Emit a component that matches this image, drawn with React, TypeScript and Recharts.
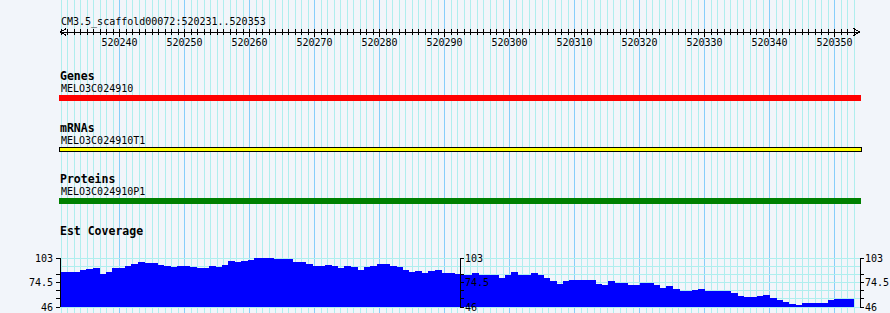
import { type FC } from "react"
import {
  Bar,
  BarChart,
  CartesianGrid,
  LineChart,
  ReferenceArea,
  ReferenceDot,
  ReferenceLine,
  XAxis,
  YAxis,
} from "recharts"

// view window
const refName = "CM3.5_scaffold00072"
const viewStart = 520231
const viewEnd = 520353

const rulerLabels = [
  520240, 520250, 520260, 520270, 520280, 520290, 520300, 520310, 520320,
  520330, 520340, 520350,
]

// one feature per track, all spanning the view
const tracks = [
  { label: "Genes", name: "MELO3C024910", start: 520231, end: 520353 },
  { label: "mRNAs", name: "MELO3C024910T1", start: 520231, end: 520353 },
  { label: "Proteins", name: "MELO3C024910P1", start: 520231, end: 520353 },
]

// est coverage, two wiggle segments
const coverageLeft = [
  86, 86, 86, 88.4, 89.7, 90.9, 83.9, 86.2, 90.9, 90.9, 93, 95.6, 97.9, 96.6,
  96.6, 94.2, 92.7, 91.9, 93.1, 93.1, 91.9, 90.7, 90.7, 92.9, 91.9, 94.4, 98.8,
  97.9, 99.2, 100.2, 103, 102.2, 102.2, 101, 101, 101, 97.7, 97.7, 96, 93.1,
  93.1, 94.2, 93.1, 90.9, 92.9, 91.9, 88.2, 91.9, 92.9, 95.4, 95.4, 93.1, 92,
  88.2, 86.3, 87.2, 85.3, 87.2, 88.2, 85.1, 85.1, 84.2,
]
const coverageRight = [
  82.6, 82.6, 85, 82.2, 82.2, 82.2, 79.5, 82.4, 85.9, 82.6, 82.6, 84.7, 83.2,
  79.2, 76, 72, 75.4, 76.6, 76.6, 76.6, 76.6, 72, 71, 75.4, 73.3, 73.3, 71, 71,
  73.1, 73.1, 71, 67.5, 69.8, 66, 64, 64, 65.2, 66.2, 63.6, 63.6, 63.6, 63.6,
  61.3, 58, 57, 57, 58.2, 59.5, 55.4, 54, 51.1, 48.8, 47.7, 50.2, 50.2, 50.2,
  50.2, 53.5, 54.6, 54.6, 54.6,
]
const coverageMin = 46
const coverageMax = 103
const coverageTicks = [46, 55.5, 65, 74.5, 84, 103]
const coverageGrid = [46, 55.5, 65, 74.5, 84, 93.5, 103]
const coverageLabels = [46, 74.5, 103]

// layout
const W = 890
const H = 313
const panelLeft = 60
const panelWidth = 800
const pxPerBase = 6.5
const domainLo = viewStart - 1 / pxPerBase
const domainHi = domainLo + panelWidth / pxPerBase

const bases: number[] = []
for (let p = viewStart; p <= viewEnd + 1; p++) bases.push(p)
const gridData = bases.map((pos) => ({ pos }))

const trackRows = [
  { labelY: 80, nameY: 92, barTop: 95, barBottom: 101, fill: "#ff0000", stroke: "none" },
  { labelY: 132, nameY: 144, barTop: 147.5, barBottom: 151.5, fill: "#ffff00", stroke: "#000000" },
  { labelY: 183, nameY: 195, barTop: 198, barBottom: 204, fill: "#008000", stroke: "none" },
]

const font = '"DejaVu Sans Mono", monospace'
const minorGrid = "#afeeee"
const majorGrid = "#87cefa"
const panelMargin = { top: 0, right: W - panelLeft - panelWidth, bottom: 0, left: panelLeft }

const layer = (top: number, left = 0) => ({
  position: "absolute" as const,
  top,
  left,
})

const RulerTick = ({ x, y, payload }: any) => {
  const major = rulerLabels.includes(payload.value)
  return (
    <g>
      <line x1={x} x2={x} y1={y - 3} y2={y + (major ? 5 : 3)} stroke="#000" />
      {major && (
        <text x={x} y={y + 14} textAnchor="middle" fontSize={10} fill="#000">
          {payload.value}
        </text>
      )}
    </g>
  )
}

const Arrow = ({ cx, cy, dir }: any) => (
  <path
    d={`M${cx + dir * 6.5},${cy - 3.5}L${cx},${cy}L${cx + dir * 6.5},${cy + 3.5}`}
    stroke="#000"
    fill="none"
  />
)

const tickFmt = (v: number) => (coverageLabels.includes(v) ? String(v) : "")
const axisTick = { fontSize: 10, fill: "#000" }

const App: FC = () => {
  const left = coverageLeft.map((v, i) => ({ pos: viewStart + i, v }))
  const right = coverageRight.map((v, i) => ({
    pos: viewStart + coverageLeft.length + i,
    v,
  }))

  return (
    <div
      style={{
        position: "absolute",
        left: 0,
        top: 0,
        width: W,
        height: H,
        background: "#f2f5fa",
        overflow: "hidden",
        fontFamily: font,
        shapeRendering: "crispEdges",
      }}
    >
      {/* base grid */}
      <div style={layer(0)}>
        <LineChart width={W} height={H} data={gridData} margin={panelMargin}>
          <XAxis dataKey="pos" type="number" domain={[domainLo, domainHi]} allowDataOverflow hide />
          <YAxis type="number" domain={[0, H]} reversed allowDataOverflow hide />
          {bases.map((p) => (
            <ReferenceLine
              key={p}
              x={p}
              stroke={p % 10 === 0 ? majorGrid : minorGrid}
              strokeWidth={1}
            />
          ))}
        </LineChart>
      </div>

      {/* feature glyphs */}
      <div style={layer(0)}>
        <LineChart width={W} height={H} data={gridData} margin={panelMargin}>
          <XAxis dataKey="pos" type="number" domain={[domainLo, domainHi]} allowDataOverflow hide />
          <YAxis type="number" domain={[0, H]} reversed allowDataOverflow hide />
          {tracks.map((t, i) => (
            <ReferenceArea
              key={t.name}
              x1={t.start - 0.3}
              x2={t.end + 1.1}
              y1={trackRows[i].barTop}
              y2={trackRows[i].barBottom}
              fill={trackRows[i].fill}
              fillOpacity={1}
              stroke={trackRows[i].stroke}
              strokeOpacity={1}
              ifOverflow="visible"
            />
          ))}
        </LineChart>
      </div>

      {/* ruler */}
      <div style={layer(0)}>
        <LineChart width={W} height={50} data={gridData} margin={panelMargin}>
          <XAxis
            dataKey="pos"
            type="number"
            domain={[domainLo, domainHi]}
            allowDataOverflow
            ticks={bases.slice(0, -1)}
            interval={0}
            height={18}
            tickSize={0}
            tickMargin={0}
            tickLine={false}
            axisLine={{ stroke: "#000" }}
            tick={<RulerTick />}
          />
          <YAxis type="number" domain={[0, 1]} allowDataOverflow hide />
          <ReferenceDot x={domainLo} y={0} r={4} ifOverflow="visible" shape={(p: any) => <Arrow {...p} dir={1} />} />
          <ReferenceDot x={domainHi} y={0} r={4} ifOverflow="visible" shape={(p: any) => <Arrow {...p} dir={-1} />} />
        </LineChart>
      </div>

      {/* est coverage, left segment */}
      <div style={layer(250)}>
        <BarChart
          width={461}
          height={63}
          data={left}
          barCategoryGap={0}
          margin={{ top: 8, right: 0, bottom: 6, left: 0 }}
        >
          <CartesianGrid vertical={false} horizontalValues={coverageGrid} stroke={minorGrid} />
          <XAxis dataKey="pos" hide padding={{ left: 1, right: 0 }} />
          <YAxis
            width={60}
            domain={[coverageMin, coverageMax]}
            ticks={coverageTicks}
            interval={0}
            allowDataOverflow
            tickFormatter={tickFmt}
            tickSize={4}
            tickMargin={3}
            axisLine={{ stroke: "#000" }}
            tickLine={{ stroke: "#000" }}
            tick={axisTick}
          />
          <Bar dataKey="v" fill="#0000ff" stroke="#0000ff" strokeWidth={1} isAnimationActive={false} />
        </BarChart>
      </div>

      {/* est coverage, right segment */}
      <div style={layer(250, 460)}>
        <BarChart
          width={430}
          height={63}
          data={right}
          barCategoryGap={0}
          margin={{ top: 8, right: 0, bottom: 6, left: 0 }}
        >
          <CartesianGrid
            vertical={false}
            horizontalValues={coverageGrid}
            stroke={minorGrid}
            yAxisId="mid"
          />
          <XAxis dataKey="pos" hide padding={{ left: 0, right: 6 }} />
          <YAxis
            yAxisId="mid"
            orientation="left"
            mirror
            domain={[coverageMin, coverageMax]}
            ticks={coverageTicks}
            interval={0}
            allowDataOverflow
            tickFormatter={tickFmt}
            tickSize={4}
            tickMargin={1}
            axisLine={{ stroke: "#000" }}
            tickLine={{ stroke: "#000" }}
            tick={axisTick}
          />
          <YAxis
            yAxisId="right"
            orientation="right"
            width={30}
            domain={[coverageMin, coverageMax]}
            ticks={coverageTicks}
            interval={0}
            allowDataOverflow
            tickFormatter={tickFmt}
            tickSize={4}
            tickMargin={1}
            axisLine={{ stroke: "#000" }}
            tickLine={{ stroke: "#000" }}
            tick={axisTick}
          />
          <Bar yAxisId="mid" dataKey="v" fill="#0000ff" stroke="#0000ff" strokeWidth={1} isAnimationActive={false} />
        </BarChart>
      </div>

      {/* track labels */}
      <svg width={W} height={H} style={{ ...layer(0), pointerEvents: "none" }}>
        <text x={61} y={25} fontSize={10} fill="#000">
          {`${refName}:${viewStart}..${viewEnd}`}
        </text>
        {tracks.map((t, i) => (
          <g key={t.label}>
            <text x={60} y={trackRows[i].labelY} fontSize={11.5} fontWeight="bold" fill="#000">
              {t.label}
            </text>
            <text x={61} y={trackRows[i].nameY} fontSize={10} fill="#000">
              {t.name}
            </text>
          </g>
        ))}
        <text x={60} y={235} fontSize={11.5} fontWeight="bold" fill="#000">
          Est Coverage
        </text>
      </svg>
    </div>
  )
}

export default App
